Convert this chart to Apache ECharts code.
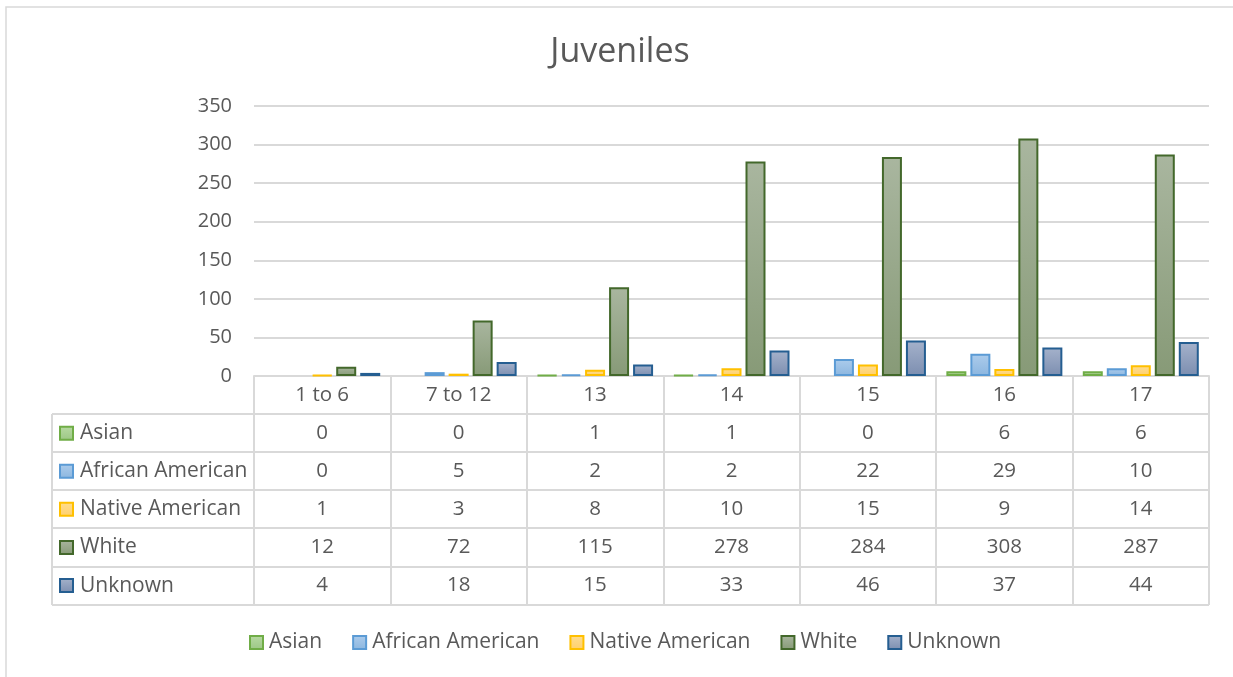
<!DOCTYPE html>
<html>
<head>
<meta charset="utf-8">
<script src="https://cdn.jsdelivr.net/npm/echarts@6/dist/echarts.min.js"></script>
<style>
html,body{margin:0;padding:0;background:#fff;}
#main{width:1233px;height:677px;}
</style>
</head>
<body>
<div id="main"></div>
<script>
var categories = ['1 to 6', '7 to 12', '13', '14', '15', '16', '17'];
var seriesNames = ['Asian', 'African American', 'Native American', 'White', 'Unknown'];
var asian = [0, 0, 1, 1, 0, 6, 6];
var africanAmerican = [0, 5, 2, 2, 22, 29, 10];
var nativeAmerican = [1, 3, 8, 10, 15, 9, 14];
var white = [12, 72, 115, 278, 284, 308, 287];
var unknown = [4, 18, 15, 33, 46, 37, 44];
var yTicks = [0, 50, 100, 150, 200, 250, 300, 350];

var allData = [asian, africanAmerican, nativeAmerican, white, unknown];
var styles = [
  {top:'#b8daa3', bottom:'#9cc785', border:'#70ad47'},
  {top:'#acccec', bottom:'#8cb6df', border:'#5b9bd5'},
  {top:'#ffdd90', bottom:'#ffd06c', border:'#ffc000'},
  {top:'#a9b69f', bottom:'#879a77', border:'#43682b'},
  {top:'#a5b2cb', bottom:'#7c8eb0', border:'#255e91'}
];
function grad(s){
  return new echarts.graphic.LinearGradient(0,0,0,1,[{offset:0,color:s.top},{offset:1,color:s.bottom}]);
}
var FONT = 'Open Sans';
var TXT = '#595959';
var LINE = '#d9d9d9';

var G = {left:254, right:1209, top:106, bottom:376};
var rowH = 38.1;
var tableLeft = 52;
var colW = (G.right - G.left) / categories.length;

var series = seriesNames.map(function(n,i){
  return {
    name:n, type:'bar', barWidth:20, barGap:'20%',
    data:allData[i].map(function(v){
      return v === 0 ? {value:v, itemStyle:{borderWidth:0}} : v;
    }),
    itemStyle:{color:grad(styles[i]), borderColor:styles[i].border, borderWidth:2},
    emphasis:{disabled:true}
  };
});

var graphics = [];
graphics.push({type:'rect', shape:{x:6,y:7,width:1300,height:800}, style:{fill:null, stroke:LINE, lineWidth:1.5}, silent:true});
for (var r=1; r<=seriesNames.length+1; r++){
  var y = Math.round(G.bottom + r*rowH);
  graphics.push({type:'line', shape:{x1:tableLeft,y1:y,x2:G.right,y2:y}, style:{stroke:LINE,lineWidth:2}, silent:true});
}
graphics.push({type:'line', shape:{x1:tableLeft,y1:Math.round(G.bottom+rowH),x2:tableLeft,y2:Math.round(G.bottom+rowH*(seriesNames.length+1))}, style:{stroke:LINE,lineWidth:2}, silent:true});
seriesNames.forEach(function(n,i){
  var cy = G.bottom + rowH*(i+1) + rowH/2;
  graphics.push({type:'rect', shape:{x:60,y:cy-6.5,width:13,height:13}, style:{fill:grad(styles[i]), stroke:styles[i].border, lineWidth:2}, silent:true});
  graphics.push({type:'text', x:80, y:cy, style:{text:n, fontFamily:FONT, fontSize:21, fill:TXT, textVerticalAlign:'middle', textAlign:'left'}, silent:true});
  allData[i].forEach(function(v,j){
    graphics.push({type:'text', x:G.left + colW*(j+0.5), y:cy, style:{text:String(v), fontFamily:FONT, fontSize:20.5, fill:TXT, textVerticalAlign:'middle', textAlign:'center'}, silent:true});
  });
});
graphics.push({type:'text', x:620, y:52, style:{text:'Juveniles', fontFamily:FONT, fontSize:34, fill:TXT, textVerticalAlign:'middle', textAlign:'center'}, silent:true});

var option = {
  backgroundColor:'#ffffff',
  animation:false,
  legend:{
    data:seriesNames, top:627, left:244, icon:'rect', itemWidth:13, itemHeight:13, itemGap:30,
    textStyle:{fontFamily:FONT, fontSize:21, color:TXT, padding:[0,0,0,1]}
  },
  grid:{left:G.left, right:1233-G.right, top:G.top, bottom:677-G.bottom, containLabel:false},
  xAxis:{
    type:'category', data:categories,
    axisLine:{show:true, lineStyle:{color:LINE, width:2}},
    axisTick:{show:true, length:Math.round(rowH*(seriesNames.length+1)), lineStyle:{color:LINE, width:2}},
    axisLabel:{fontFamily:FONT, fontSize:20.5, color:TXT, margin:19, verticalAlign:'middle'}
  },
  yAxis:{
    type:'value', min:yTicks[0], max:yTicks[yTicks.length-1], interval:50,
    axisLine:{show:false}, axisTick:{show:false},
    axisLabel:{fontFamily:FONT, fontSize:20, color:TXT, margin:22},
    splitLine:{lineStyle:{color:LINE, width:2}}
  },
  series:series,
  graphic:graphics
};
var chart = echarts.init(document.getElementById('main'));
chart.setOption(option);
</script>
</body>
</html>
